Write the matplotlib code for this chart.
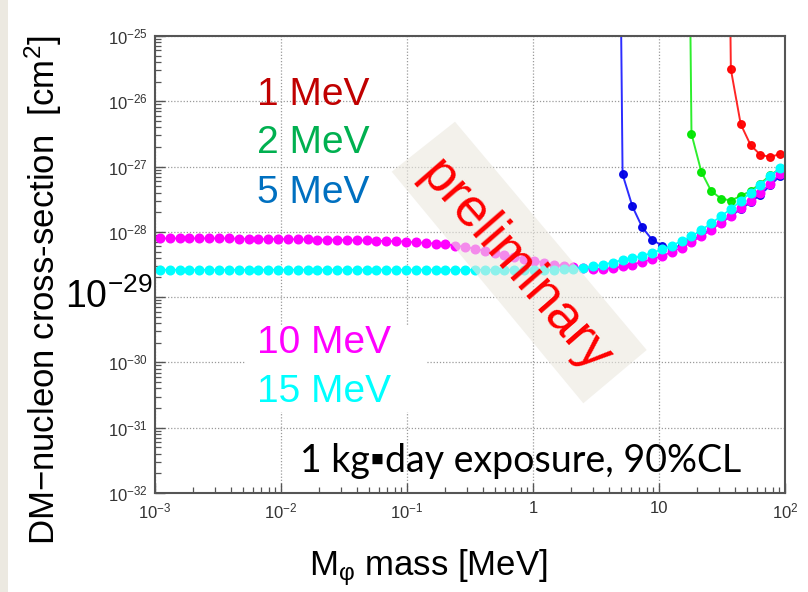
import numpy as np
import matplotlib
matplotlib.use('Agg')
import matplotlib.pyplot as plt
from matplotlib.ticker import LogLocator, NullFormatter, FixedLocator
from matplotlib.patches import Polygon, Rectangle

plt.rcParams['font.family'] = ['Liberation Sans', 'DejaVu Sans']
plt.rcParams['mathtext.default'] = 'regular'

# ---------------- data ----------------
mass = [0.0010941, 0.0013097, 0.0015679, 0.0018769, 0.0022468, 0.0026896, 0.0032197, 0.0038542,
        0.0046138, 0.0055231, 0.0066115, 0.0079145, 0.0094743, 0.011342, 0.013577, 0.016253,
        0.019456, 0.023291, 0.027881, 0.033376, 0.039954, 0.047828, 0.057254, 0.068537,
        0.082043, 0.098217, 0.11758, 0.14075, 0.16848, 0.20169, 0.24144, 0.28902,
        0.34599, 0.41417, 0.49580, 0.59351, 0.71048, 0.85049, 1.0182, 1.2188,
        1.4590, 1.7466, 2.0908, 2.5029, 2.9961, 3.5866, 4.2935, 5.1396,
        6.1526, 7.3651, 8.8166, 10.555, 12.635, 15.125, 18.105, 21.674,
        25.945, 31.059, 37.180, 44.508, 53.280, 63.781, 76.353, 91.402]

sig_10mev = [7.94e-29, 7.94e-29, 7.94e-29, 7.94e-29, 7.94e-29, 7.94e-29, 7.94e-29, 7.94e-29,
             7.85e-29, 7.85e-29, 7.76e-29, 7.76e-29, 7.76e-29, 7.76e-29, 7.67e-29, 7.67e-29,
             7.59e-29, 7.59e-29, 7.59e-29, 7.50e-29, 7.41e-29, 7.41e-29, 7.33e-29, 7.24e-29,
             7.16e-29, 7.08e-29, 6.92e-29, 6.76e-29, 6.61e-29, 6.46e-29, 6.17e-29, 5.89e-29,
             5.50e-29, 5.13e-29, 4.79e-29, 4.47e-29, 4.17e-29, 3.89e-29, 3.63e-29, 3.39e-29,
             3.16e-29, 3.02e-29, 2.88e-29, 2.79e-29, 2.72e-29, 2.72e-29, 2.79e-29, 2.95e-29,
             3.16e-29, 3.47e-29, 3.80e-29, 4.27e-29, 4.90e-29, 5.75e-29, 6.92e-29, 8.51e-29,
             1.07e-28, 1.38e-28, 1.78e-28, 2.29e-28, 2.95e-28, 3.98e-28, 5.50e-28, 7.76e-28]

sig_15mev = [2.63e-29, 2.63e-29, 2.63e-29, 2.63e-29, 2.63e-29, 2.63e-29, 2.63e-29, 2.63e-29,
             2.63e-29, 2.63e-29, 2.63e-29, 2.63e-29, 2.63e-29, 2.63e-29, 2.63e-29, 2.63e-29,
             2.63e-29, 2.63e-29, 2.63e-29, 2.63e-29, 2.63e-29, 2.63e-29, 2.63e-29, 2.63e-29,
             2.63e-29, 2.63e-29, 2.63e-29, 2.63e-29, 2.63e-29, 2.63e-29, 2.63e-29, 2.63e-29,
             2.63e-29, 2.63e-29, 2.63e-29, 2.63e-29, 2.63e-29, 2.63e-29, 2.63e-29, 2.63e-29,
             2.63e-29, 2.66e-29, 2.72e-29, 2.82e-29, 2.95e-29, 3.16e-29, 3.39e-29, 3.72e-29,
             3.98e-29, 4.27e-29, 4.79e-29, 5.37e-29, 6.17e-29, 7.24e-29, 8.51e-29, 1.07e-28,
             1.35e-28, 1.74e-28, 2.24e-28, 2.95e-28, 3.98e-28, 5.25e-28, 7.08e-28, 9.55e-28]

# threshold curves: values for the last N mass points (first value is far above the plot)
sig_5mev = [1e-12, 7.59e-28, 2.45e-28, 1.17e-28, 7.59e-29, 6.17e-29, 5.50e-29, 6.31e-29,
            7.41e-29, 8.91e-29, 1.10e-28, 1.38e-28, 1.74e-28, 2.24e-28, 2.82e-28, 3.72e-28,
            5.13e-28, 7.24e-28]
sig_2mev = [1e-12, 3.16e-27, 8.32e-28, 4.22e-28, 3.24e-28, 3.02e-28, 3.55e-28, 4.22e-28,
            5.50e-28, 7.33e-28, 9.33e-28]
sig_1mev = [1e-12, 3.09e-26, 4.47e-27, 2.14e-27, 1.51e-27, 1.41e-27, 1.55e-27]

legend_labels = ['1 MeV', '2 MeV', '5 MeV', '10 MeV', '15 MeV']
y_ticks = [1e-32, 1e-31, 1e-30, 1e-29, 1e-28, 1e-27, 1e-26, 1e-25]
y_ticklabels = ['$10^{-32}$', '$10^{-31}$', '$10^{-30}$', '', '$10^{-28}$', '$10^{-27}$',
                '$10^{-26}$', '$10^{-25}$']
x_ticks = [1e-3, 1e-2, 1e-1, 1, 10, 100]
x_ticklabels = ['$10^{-3}$', '$10^{-2}$', '$10^{-1}$', '1', '10', '$10^{2}$']

# ---------------- figure ----------------
W, H = 808, 592
fig = plt.figure(figsize=(W / 100, H / 100), dpi=100)
fx = lambda x: x / W
fy = lambda y: 1 - y / H

# slide border strip
fig.add_artist(Rectangle((0, 0), fx(8), 1, transform=fig.transFigure,
                         facecolor='#ece9e1', edgecolor='none', zorder=0))

ax = fig.add_axes([fx(155), fy(493), (785 - 155) / W, (493 - 36) / H])
ax.set_xscale('log')
ax.set_yscale('log')
ax.set_xlim(1e-3, 1e2)
ax.set_ylim(1e-32, 1e-25)

m = np.array(mass)
ax.plot(m[-len(sig_1mev):], sig_1mev, '-o', color='#ff1a1a', mfc='#ff0000', mec='#ff0000',
        ms=5.4, lw=1.4, alpha=0.95)
ax.plot(m[-len(sig_2mev):], sig_2mev, '-o', color='#22ee22', mfc='#00e600', mec='#00e600',
        ms=5.4, lw=1.4, alpha=0.95)
ax.plot(m[-len(sig_5mev):], sig_5mev, '-o', color='#2020ff', mfc='#0000e6', mec='#0000e6',
        ms=5.4, lw=1.4, alpha=0.95)
ax.plot(m, sig_10mev, '-o', color='#ff00ff', ms=6.2, lw=1.2)
ax.plot(m, sig_15mev, '-o', color='#00ffff', ms=6.2, lw=1.2)

ax.set_axisbelow(True)
ax.grid(True, which='major', linestyle=(0, (1, 1.5)), color='#9a9a9a', lw=0.9)

ax.yaxis.set_major_locator(FixedLocator(y_ticks))
ax.set_yticklabels(y_ticklabels)
ax.xaxis.set_major_locator(FixedLocator(x_ticks))
ax.set_xticklabels(x_ticklabels)
ax.xaxis.set_minor_locator(LogLocator(base=10, subs=np.arange(2, 10), numticks=100))
ax.yaxis.set_minor_locator(LogLocator(base=10, subs=np.arange(2, 10), numticks=100))
ax.xaxis.set_minor_formatter(NullFormatter())
ax.yaxis.set_minor_formatter(NullFormatter())
ax.tick_params(which='both', direction='in', color='#555555', top=False, right=False,
               labelsize=12, labelcolor='#333333')
ax.tick_params(which='major', length=7, width=1.0)
ax.tick_params(which='minor', length=4, width=0.9)
ax.tick_params(axis='y', pad=5)
ax.tick_params(axis='x', pad=6)
for s in ax.spines.values():
    s.set_color('#555555')
    s.set_linewidth(1.5)

# white background of the lower text box (covers grid)
ax.add_patch(Rectangle((fx(245), fy(412)), fx(427) - fx(245), fy(325) - fy(412),
                       transform=fig.transFigure, facecolor='white', edgecolor='none',
                       zorder=0.8))

# axis titles
fig.text(fx(428), fy(575), 'M$_{φ}$ mass [MeV]', ha='center', va='baseline', fontsize=25)
fig.text(fx(43), fy(290), 'DM−nucleon cross-section  [cm$^{2}$]', ha='center', va='center',
         rotation=90, fontsize=25)
fig.text(fx(152), fy(308), '$10^{-29}$', ha='right', va='baseline', fontsize=27, color='black')

# legend texts
leg_colors = ['#c00000', '#00b050', '#0070c0', '#ff00ff', '#00ffff']
leg_y = [105, 153, 203, 353, 402]
for lab, c, yy in zip(legend_labels, leg_colors, leg_y):
    fig.text(fx(257), fy(yy), lab, color=c, fontsize=28, va='baseline', ha='left')

fig.text(fx(300), fy(472), '1 kg▪day exposure, 90%CL', family=['Lato', 'DejaVu Sans'],
         fontsize=27, va='baseline', ha='left', color='black')

# preliminary stamp
corners = [(391.7, 171.7), (455, 121.7), (646.7, 350), (583.3, 403.3)]
fig.add_artist(Polygon([(fx(a), fy(b)) for a, b in corners], closed=True,
                       transform=fig.transFigure, facecolor='#ebe8df', edgecolor='none',
                       alpha=0.6, zorder=2))
fig.text(fx(515), fy(266), 'preliminary', rotation=-49, rotation_mode='anchor', ha='center',
         va='center', color='#ff0000', fontsize=39, zorder=3)

fig.savefig('out.png', dpi=100)
